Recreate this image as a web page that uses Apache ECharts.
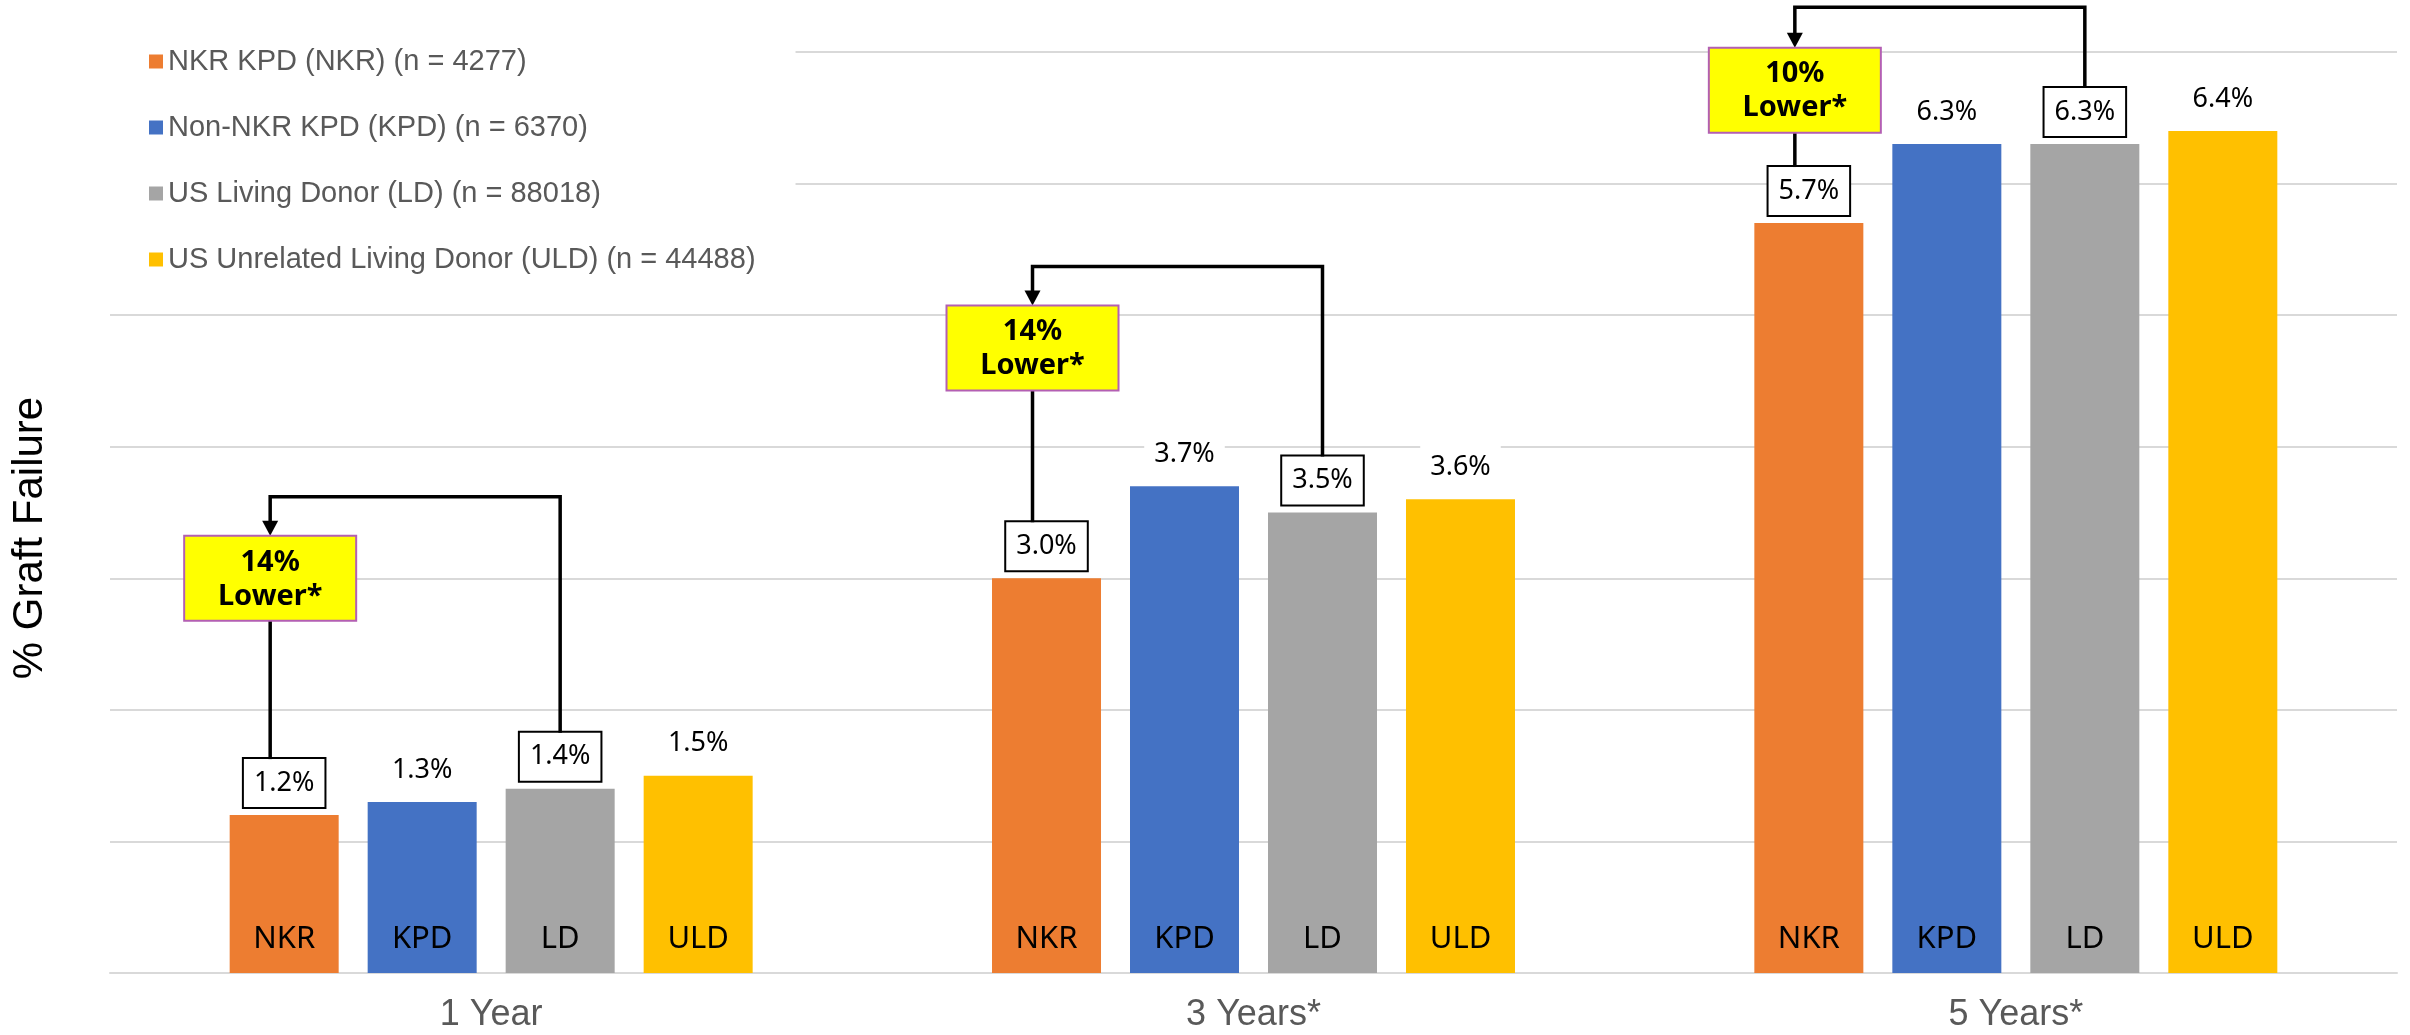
<!DOCTYPE html>
<html>
<head>
<meta charset="utf-8">
<script src="https://cdn.jsdelivr.net/npm/echarts@6/dist/echarts.min.js"></script>
<style>
html,body{margin:0;padding:0;background:#fff;}
#c{width:2410px;height:1035px;}
</style>
</head>
<body>
<div id="c"></div>
<script>
// ---- data ----
const categories = ['1 Year', '3 Years*', '5 Years*'];
const seriesNames = [
  'NKR KPD (NKR) (n = 4277)',
  'Non-NKR KPD (KPD) (n = 6370)',
  'US Living Donor (LD) (n = 88018)',
  'US Unrelated Living Donor (ULD) (n = 44488)'
];
const shortNames = ['NKR', 'KPD', 'LD', 'ULD'];
const nkrValues = [1.2, 3.0, 5.7];
const kpdValues = [1.3, 3.7, 6.3];
const ldValues = [1.4, 3.5, 6.3];
const uldValues = [1.5, 3.6, 6.4];
const yTicks = [0, 1, 2, 3, 4, 5, 6, 7];
const annotationCategories = ['1 Year', '3 Years*', '5 Years*'];
const annotationPercents = ['14%', '14%', '10%'];
const annotationWord = 'Lower*';
const yAxisTitle = '% Graft Failure';

// ---- styles / layout (kept apart from data) ----
const allValues = [nkrValues, kpdValues, ldValues, uldValues];
const colors = ['#ED7D31', '#4472C4', '#A5A5A5', '#FFC000'];
const boxed = [true, false, true, false];
const BAR_W = 109;
const GAP = 0.266;
const LABEL_DIST = 8;
const LABEL_H = 48;
const annLayout = [
  { box: 3.0, bracket: 3.62 },
  { box: 4.75, bracket: 5.37 },
  { box: 6.71, bracket: 7.34 }
];
const BOX_W = 172, BOX_H = 85;
const SANS = "'Liberation Sans', Arial, sans-serif";
const NOTO = "'Noto Sans', 'DejaVu Sans', sans-serif";

const chart = echarts.init(document.getElementById('c'));

const series = [];
allValues.forEach((vals, i) => {
  series.push({
    name: seriesNames[i],
    type: 'bar',
    xAxisIndex: 0,
    data: vals,
    barWidth: BAR_W,
    barGap: (GAP * 100) + '%',
    itemStyle: { color: colors[i] },
    label: {
      show: true,
      position: 'top',
      distance: LABEL_DIST,
      formatter: p => p.value.toFixed(1) + '%',
      fontFamily: NOTO,
      fontSize: 27,
      lineHeight: 28,
      color: '#000',
      padding: [10, 10],
      backgroundColor: '#fff',
      borderColor: boxed[i] ? '#000' : 'rgba(0,0,0,0)',
      borderWidth: boxed[i] ? 2 : 0
    },
    silent: true
  });
});
allValues.forEach((vals, i) => {
  series.push({
    name: shortNames[i],
    type: 'bar',
    xAxisIndex: 1,
    data: vals,
    barWidth: BAR_W,
    barGap: (GAP * 100) + '%',
    itemStyle: { color: 'rgba(0,0,0,0)' },
    z: 5,
    label: {
      show: true,
      position: 'insideBottom',
      distance: 18,
      formatter: shortNames[i],
      fontFamily: NOTO,
      fontSize: 31,
      color: '#000'
    },
    silent: true
  });
});

chart.setOption({
  animation: false,
  backgroundColor: '#fff',
  grid: { left: 110, right: 13, top: 52, bottom: 62, containLabel: false },
  legend: {
    data: seriesNames,
    orient: 'vertical',
    left: 110,
    top: 27,
    padding: [20, 40, 20, 39],
    backgroundColor: '#fff',
    icon: 'rect',
    itemWidth: 14,
    itemHeight: 14,
    itemGap: 37,
    selectedMode: false,
    textStyle: { fontFamily: SANS, fontSize: 29, lineHeight: 29, color: '#595959' }
  },
  xAxis: [
    {
      type: 'category',
      data: categories,
      axisLine: { lineStyle: { color: '#d9d9d9', width: 2 } },
      axisTick: { show: false },
      axisLabel: { fontFamily: SANS, fontSize: 36, color: '#595959', margin: 24 }
    },
    { type: 'category', data: categories, show: false }
  ],
  yAxis: {
    type: 'value',
    min: yTicks[0],
    max: yTicks[yTicks.length - 1],
    interval: yTicks[1] - yTicks[0],
    axisLabel: { show: false },
    axisLine: { show: false },
    axisTick: { show: false },
    splitLine: { lineStyle: { color: '#d9d9d9', width: 2 } }
  },
  series: series
});

function buildGraphics() {
  const els = [];
  els.push({
    type: 'text',
    x: 30, y: 538,
    rotation: Math.PI / 2,
    style: {
      text: yAxisTitle, fontFamily: SANS, fontSize: 42, fill: '#000',
      align: 'center', verticalAlign: 'middle'
    }
  });
  const unit = BAR_W * (1 + GAP);
  annotationCategories.forEach((cat, k) => {
    const ci = categories.indexOf(cat);
    const cx = chart.convertToPixel({ xAxisIndex: 0 }, ci);
    const leftX = cx + (0 - 1.5) * unit - 14;
    const rightX = cx + (2 - 1.5) * unit;
    const nkrTop = chart.convertToPixel({ yAxisIndex: 0 }, nkrValues[ci]) - LABEL_DIST - LABEL_H;
    const ldTop = chart.convertToPixel({ yAxisIndex: 0 }, ldValues[ci]) - LABEL_DIST - LABEL_H;
    const boxCy = chart.convertToPixel({ yAxisIndex: 0 }, annLayout[k].box);
    const brY = chart.convertToPixel({ yAxisIndex: 0 }, annLayout[k].bracket);
    const boxTop = boxCy - BOX_H / 2;
    const boxBottom = boxCy + BOX_H / 2;
    const lineStyle = { stroke: '#000', lineWidth: 3.5, fill: null };
    els.push({ type: 'polyline', z: 100, shape: { points: [[leftX, boxBottom], [leftX, nkrTop]] }, style: lineStyle });
    els.push({ type: 'polyline', z: 100, shape: { points: [[leftX, boxTop - 12], [leftX, brY], [rightX, brY], [rightX, ldTop]] }, style: lineStyle });
    els.push({ type: 'polygon', z: 100, shape: { points: [[leftX - 8, boxTop - 15], [leftX + 8, boxTop - 15], [leftX, boxTop]] }, style: { fill: '#000' } });
    els.push({
      type: 'rect', z: 101,
      shape: { x: leftX - BOX_W / 2, y: boxTop, width: BOX_W, height: BOX_H },
      style: { fill: '#FFFF00', stroke: '#B35FB3', lineWidth: 2 }
    });
    els.push({
      type: 'text', z: 102, x: leftX, y: boxCy + 1,
      style: {
        text: annotationPercents[k] + '\n' + annotationWord,
        fontFamily: NOTO, fontSize: 29, fontWeight: 'bold', lineHeight: 34,
        fill: '#000', align: 'center', verticalAlign: 'middle'
      }
    });
  });
  chart.setOption({ graphic: els });
}
buildGraphics();
</script>
</body>
</html>
